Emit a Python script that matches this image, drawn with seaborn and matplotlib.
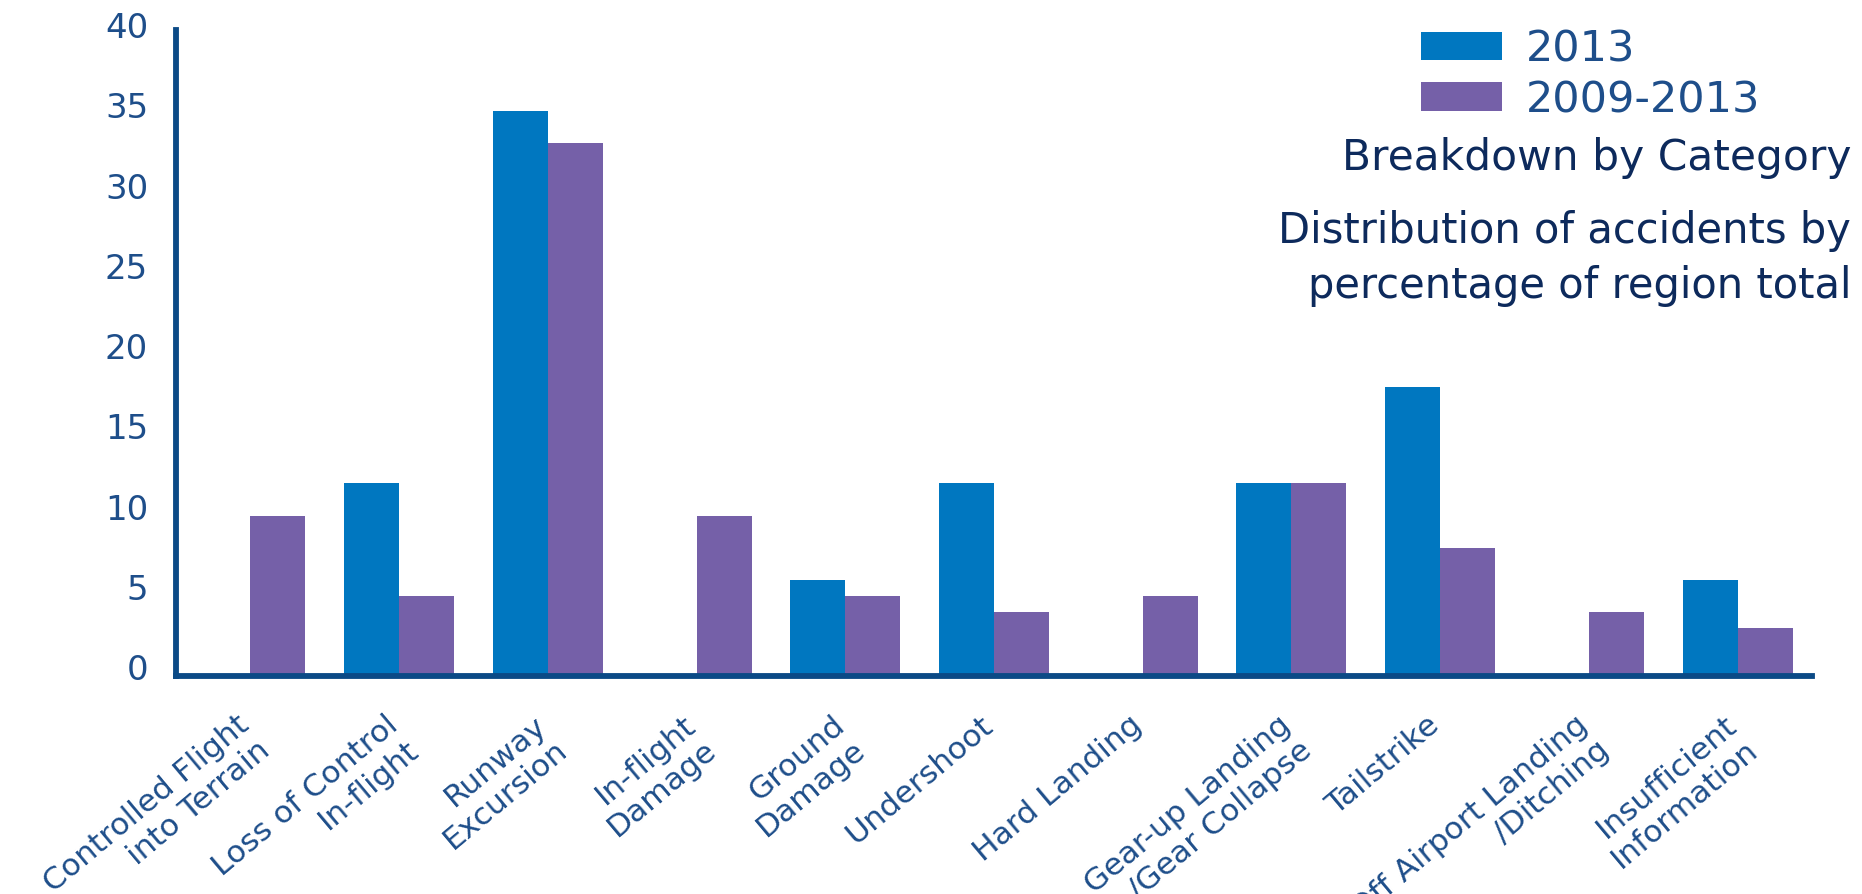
import matplotlib
matplotlib.use("Agg")
import matplotlib.pyplot as plt
import matplotlib.transforms as mtrans
import seaborn as sns
import pandas as pd

# ---- data ----
categories = [
    "Controlled Flight\ninto Terrain",
    "Loss of Control\nIn-flight",
    "Runway\nExcursion",
    "In-flight\nDamage",
    "Ground\nDamage",
    "Undershoot",
    "Hard Landing",
    "Gear-up Landing\n/Gear Collapse",
    "Tailstrike",
    "Off Airport Landing\n/Ditching",
    "Insufficient\nInformation",
]
series_names = ["2013", "2009-2013"]
values_2013 = [0, 12, 35.2, 0, 6, 12, 0, 12, 18, 0, 6]
values_2009_2013 = [10, 5, 33.2, 10, 5, 4, 5, 12, 8, 4, 3]
y_ticks = [0, 5, 10, 15, 20, 25, 30, 35, 40]
annotation_lines = [
    "Breakdown by Category",
    "Distribution of accidents by\npercentage of region total",
]

df = pd.DataFrame({
    "category": categories * 2,
    "series": [series_names[0]] * len(categories) + [series_names[1]] * len(categories),
    "value": values_2013 + values_2009_2013,
})

# ---- style ----
sns.set_theme(style="white")
plt.rcParams["font.family"] = ["DejaVu Sans"]

BLUE = "#0077C0"
PURPLE = "#7560A8"
AXIS = "#0B4A86"
TICK_TXT = "#1E4E8A"
NOTE_TXT = "#0D2A5C"

W, H = 1862, 895
fig = plt.figure(figsize=(W / 100, H / 100), dpi=100)
ax = fig.add_axes([176 / W, (H - 677) / H, (1812 - 176) / W, (677 - 31) / H])

sns.barplot(
    data=df, x="category", y="value", hue="series",
    order=categories, hue_order=series_names,
    palette=[BLUE, PURPLE], width=0.74, saturation=1,
    linewidth=0, edgecolor="none",
    ax=ax, legend=True,
)

ax.set_xlim(-0.5, len(categories) - 0.5)
ax.set_ylim(0, 40.25)
ax.set_xlabel("")
ax.set_ylabel("")

# spines
for s in ["top", "right"]:
    ax.spines[s].set_visible(False)
for s in ["left", "bottom"]:
    ax.spines[s].set_color(AXIS)
    ax.spines[s].set_linewidth(4.2)
    ax.spines[s].set_capstyle("projecting")

# y ticks
ax.set_yticks(y_ticks)
ax.set_yticklabels([str(t) for t in y_ticks])
ax.tick_params(axis="y", length=0, pad=20, labelsize=24.5, labelcolor=TICK_TXT)
offset = mtrans.ScaledTranslation(0, 10 / 100, fig.dpi_scale_trans)
for lab in ax.get_yticklabels():
    lab.set_transform(lab.get_transform() + offset)

# x ticks
ax.set_xticks(range(len(categories)))
ax.set_xticklabels(categories, rotation=40, ha="right", va="top",
                   rotation_mode="anchor", multialignment="right",
                   linespacing=1.15)
ax.tick_params(axis="x", length=0, pad=24, labelsize=22.5, labelcolor=TICK_TXT)
xoff = mtrans.ScaledTranslation(-14 / 100, 0, fig.dpi_scale_trans)
for lab in ax.get_xticklabels():
    lab.set_transform(lab.get_transform() + xoff)

# legend
handles, labels = ax.get_legend_handles_labels()
ax.legend(
    handles, labels, loc="upper left",
    bbox_to_anchor=(1421 / W, 1 - 29 / H), bbox_transform=fig.transFigure,
    frameon=False, fontsize=31, labelcolor=TICK_TXT,
    handlelength=1.88, handleheight=0.63, handletextpad=0.55,
    labelspacing=0.2, borderpad=0, borderaxespad=0,
)

# annotation text
fig.text(1851 / W, 1 - 170 / H, annotation_lines[0], ha="right", va="baseline",
         fontsize=30.5, color=NOTE_TXT)
fig.text(1851 / W, 1 - 298 / H, annotation_lines[1], ha="right", va="baseline",
         fontsize=30, color=NOTE_TXT, multialignment="right", linespacing=1.4)

fig.savefig("out.png", dpi=100)
